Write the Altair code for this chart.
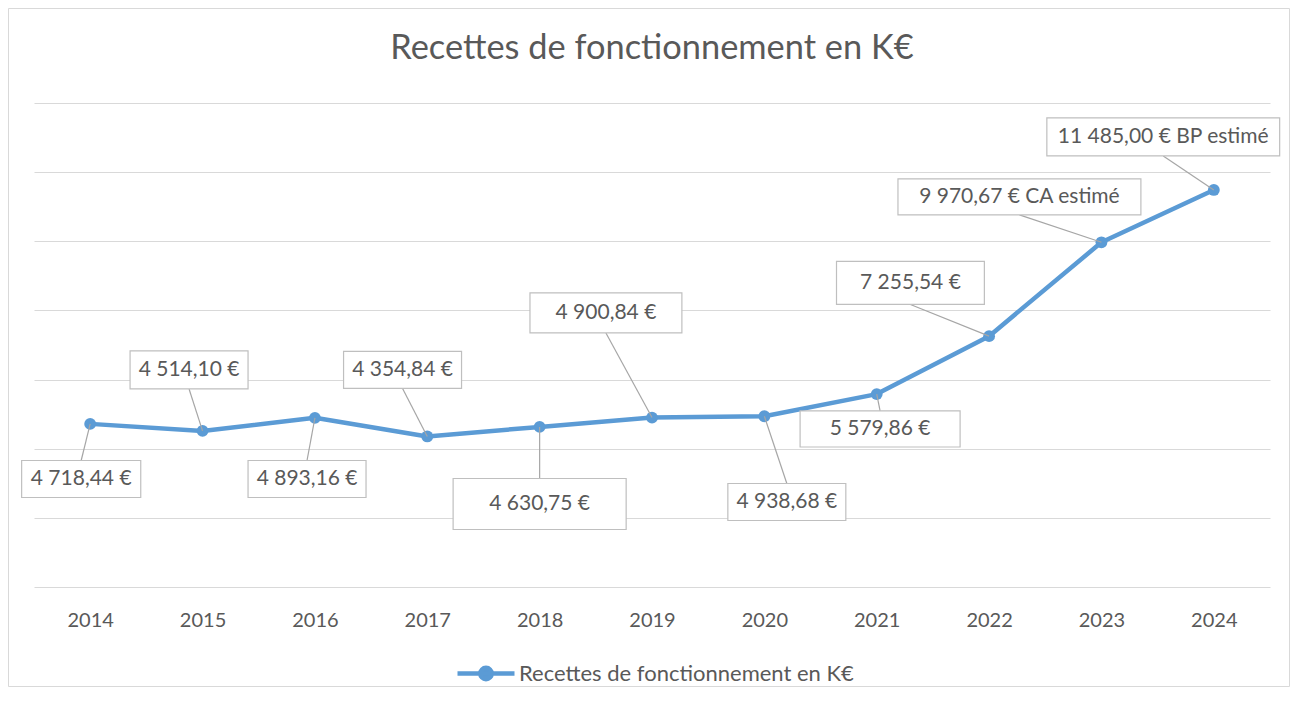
import altair as alt
import pandas as pd

# ---- data ----
annees = [2014, 2015, 2016, 2017, 2018, 2019, 2020, 2021, 2022, 2023, 2024]
valeurs = [4718.44, 4514.10, 4893.16, 4354.84, 4630.75, 4900.84, 4938.68,
           5579.86, 7255.54, 9970.67, 11485.00]
etiquettes = ["4 718,44 €", "4 514,10 €", "4 893,16 €", "4 354,84 €", "4 630,75 €",
              "4 900,84 €", "4 938,68 €", "5 579,86 €", "7 255,54 €",
              "9 970,67 € CA estimé", "11 485,00 € BP estimé"]
serie = "Recettes de fonctionnement en K€"
y_ticks = [0, 2000, 4000, 6000, 8000, 10000, 12000, 14000]

# label box centres (in data units: year / value) and half sizes
label_x = [2013.92, 2014.88, 2015.93, 2016.78, 2018.00, 2018.59, 2020.20,
           2021.03, 2021.30, 2022.27, 2023.55]
label_y = [3124, 6278, 3124, 6278, 2401, 7927, 2459, 4571, 8795, 11283, 13019]
half_w = [0.53, 0.525, 0.525, 0.525, 0.77, 0.676, 0.525, 0.712, 0.658, 1.081, 1.036]
half_h = [535, 550, 535, 535, 738, 579, 535, 521, 622, 521, 550]

df = pd.DataFrame({"annee": annees, "valeur": valeurs, "serie": serie})
lab = pd.DataFrame({"annee": annees, "valeur": valeurs, "txt": etiquettes,
                    "lx": label_x, "ly": label_y, "hw": half_w, "hh": half_h})
lab["bx1"] = lab["lx"] - lab["hw"]
lab["bx2"] = lab["lx"] + lab["hw"]
lab["by1"] = lab["ly"] - lab["hh"]
lab["by2"] = lab["ly"] + lab["hh"]
# box below the point -> leader starts at its top edge; above -> bottom edge
lab["edge"] = [ly + hh if ly < v else ly - hh
               for ly, hh, v in zip(lab["ly"], lab["hh"], lab["valeur"])]

FONT = "Lato"
BLUE = "#5B9BD5"
GREY_TXT = "#595959"

xscale = alt.Scale(domain=[2013.5, 2024.5], nice=False, zero=False)
yscale = alt.Scale(domain=[0, 14000], nice=False)
xaxis = alt.Axis(values=annees, format="d", title=None, grid=False, ticks=False,
                 tickSize=0, domain=False, labelFont=FONT, labelFontSize=20,
                 labelColor=GREY_TXT, labelPadding=23)
yaxis = alt.Axis(values=y_ticks, grid=True, gridColor="#D9D9D9", gridWidth=1,
                 labels=False, ticks=False, domain=False, title=None)

frame = alt.Chart(pd.DataFrame({"k": [0]})).mark_rect(
    fill="transparent", stroke="#D9D9D9", strokeWidth=1
).encode(x=alt.value(-25.5), x2=alt.value(1255.5), y=alt.value(-94.5), y2=alt.value(583.5))

legend_path = "M-1,0L1,0M0.2,0A0.2,0.2,0,1,1,-0.2,0A0.2,0.2,0,1,1,0.2,0Z"

line = alt.Chart(df).mark_line(strokeWidth=4.5, strokeCap="round", strokeJoin="round").encode(
    x=alt.X("annee:Q", scale=xscale, axis=xaxis),
    y=alt.Y("valeur:Q", scale=yscale, axis=yaxis),
    color=alt.Color("serie:N", scale=alt.Scale(range=[BLUE]),
                    legend=alt.Legend(orient="none", legendX=421, legendY=539.5, title=None,
                                      symbolType=legend_path, symbolSize=3249,
                                      symbolStrokeWidth=4.5, symbolFillColor=BLUE,
                                      symbolStrokeColor=BLUE, labelLimit=1000,
                                      labelFont=FONT, labelFontSize=22, labelColor=GREY_TXT,
                                      labelOffset=2, padding=0)),
)

points = alt.Chart(df).mark_circle(size=140, color=BLUE, opacity=1).encode(
    x=alt.X("annee:Q", scale=xscale, axis=xaxis),
    y=alt.Y("valeur:Q", scale=yscale, axis=yaxis),
)

leaders = alt.Chart(lab).mark_rule(color="#A6A6A6", strokeWidth=1.2).encode(
    x=alt.X("lx:Q", scale=xscale, axis=xaxis),
    y=alt.Y("edge:Q", scale=yscale, axis=yaxis),
    x2="annee:Q",
    y2="valeur:Q",
)

boxes = alt.Chart(lab).mark_rect(fill="white", stroke="#BFBFBF", strokeWidth=1.2).encode(
    x=alt.X("bx1:Q", scale=xscale, axis=xaxis),
    x2="bx2:Q",
    y=alt.Y("by1:Q", scale=yscale, axis=yaxis),
    y2="by2:Q",
)

texts = alt.Chart(lab).mark_text(font=FONT, fontSize=21, color=GREY_TXT,
                                 align="center", baseline="middle").encode(
    x=alt.X("lx:Q", scale=xscale, axis=xaxis),
    y=alt.Y("ly:Q", scale=yscale, axis=yaxis),
    text="txt:N",
)

chart = alt.layer(frame, line, points, leaders, boxes, texts).properties(
    width=1236,
    height=484,
    padding={"left": 26, "top": 95, "right": 20, "bottom": 100},
    autosize=alt.AutoSizeParams(type="none"),
    background="white",
    title=alt.TitleParams(text=serie, font=FONT, fontSize=34.4, fontWeight="normal",
                          color=GREY_TXT, anchor="middle", frame="group", offset=-58),
).configure_view(strokeWidth=0, stroke="transparent")

chart.save("out.html", embed_options={"renderer": "svg", "actions": False})
